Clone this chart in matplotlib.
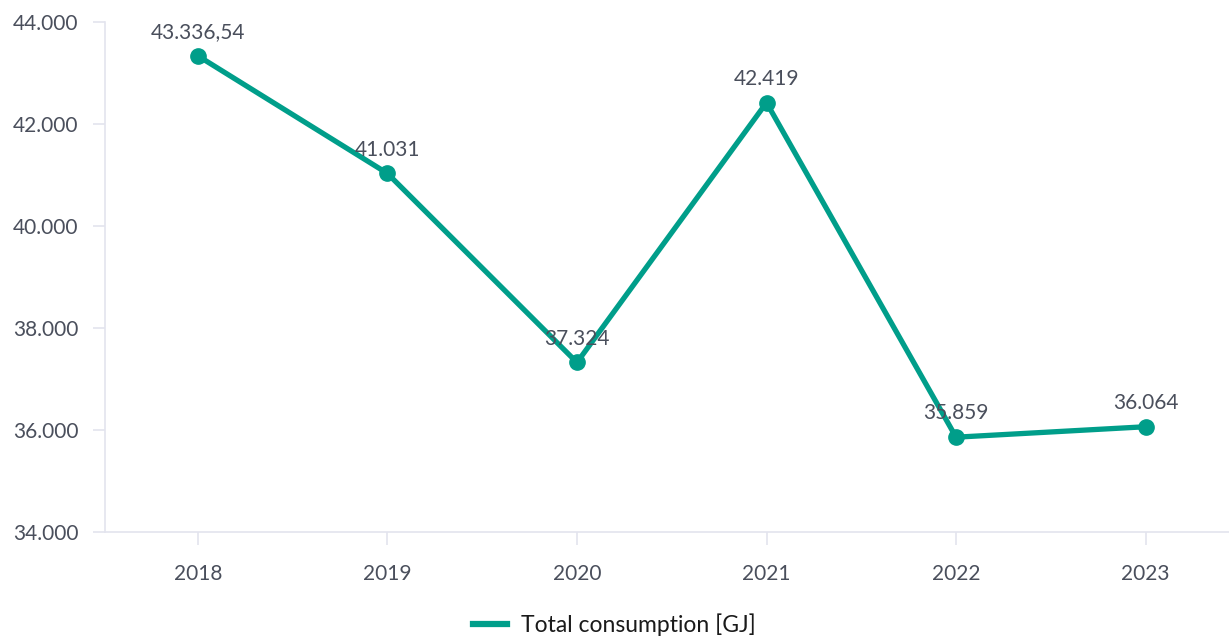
import matplotlib
matplotlib.use("Agg")
import matplotlib.pyplot as plt
from matplotlib.ticker import FuncFormatter

# Chart data
years = ["2018", "2019", "2020", "2021", "2022", "2023"]
consumption = [43336.54, 41031, 37324, 42419, 35859, 36064]
point_labels = ["43.336,54", "41.031", "37.324", "42.419", "35.859", "36.064"]

line_color = "#009e8a"
text_color = "#4a4f5c"
axis_color = "#e3e4ee"

plt.rcParams['font.family'] = ['Lato', 'DejaVu Sans']

fig = plt.figure(figsize=(12.29, 6.38), dpi=100)
ax = fig.add_axes([105 / 1229, 1 - 532 / 638, (1229 - 105) / 1229, (532 - 22) / 638])

x = list(range(len(years)))
ax.plot(x, consumption, color=line_color, linewidth=3.8, marker='o',
        markersize=11, solid_capstyle='round', label='Total consumption [GJ]',
        zorder=3)

# value labels above each point
for xi, yi, lab in zip(x, consumption, point_labels):
    ax.annotate(lab, (xi, yi), xytext=(0, 10), textcoords='offset points',
                ha='center', va='bottom', fontsize=15, color=text_color,
                zorder=4)

ax.set_xlim(-0.49, 5.44)
ax.set_ylim(34000, 44000)
ax.set_xticks(x)
ax.set_xticklabels(years)
ax.set_yticks(range(34000, 44001, 2000))
ax.yaxis.set_major_formatter(FuncFormatter(lambda v, p: f"{int(v):,}".replace(",", ".")))

for side in ['top', 'right']:
    ax.spines[side].set_visible(False)
for side in ['left', 'bottom']:
    ax.spines[side].set_color(axis_color)
    ax.spines[side].set_linewidth(1.2)

ax.tick_params(axis='y', colors=axis_color, labelcolor=text_color, labelsize=15,
               length=9, width=1.2, pad=10)
ax.tick_params(axis='x', colors=axis_color, labelcolor=text_color, labelsize=15,
               length=9, width=1.2, pad=14)

# legend below the chart
fig.legend(loc='center', bbox_to_anchor=(0.5, 1 - 625 / 638), frameon=False,
           fontsize=16.5, handlelength=1.5, handletextpad=0.6, labelcolor='#1a1a1a',
           handles=[plt.Line2D([], [], color=line_color, linewidth=4.5)],
           labels=['Total consumption [GJ]'])

plt.savefig("out.png", dpi=100)
